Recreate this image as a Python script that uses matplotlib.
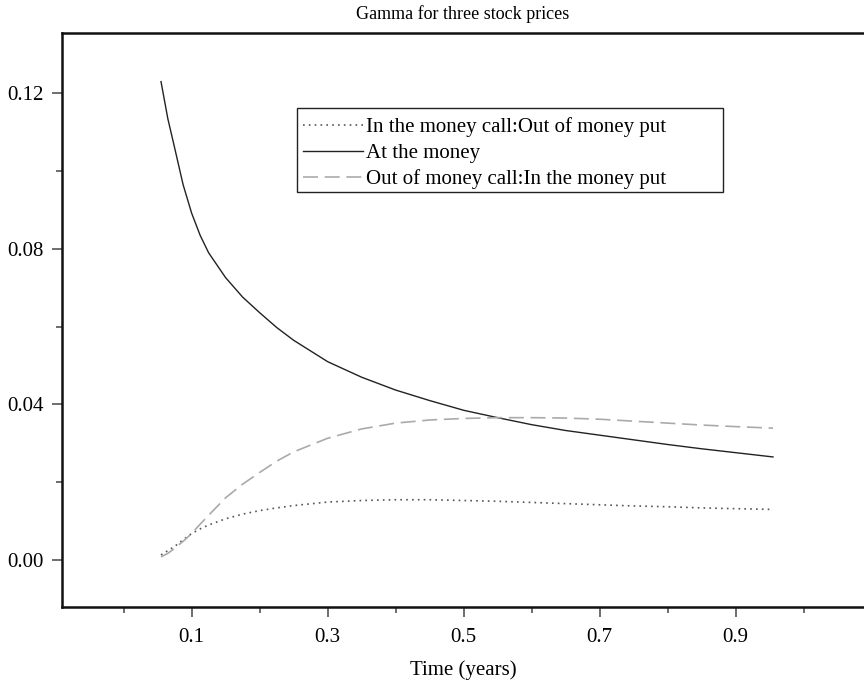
import matplotlib
matplotlib.use("Agg")
import matplotlib.pyplot as plt
from matplotlib.ticker import MultipleLocator, FormatStrFormatter, FixedLocator
from matplotlib.patches import Rectangle

plt.rcParams['font.family'] = ['Liberation Serif', 'DejaVu Serif']

time_years = [0.055, 0.065, 0.075, 0.0875, 0.1, 0.1125, 0.125, 0.15, 0.175, 0.2,
              0.225, 0.25, 0.3, 0.35, 0.4, 0.45, 0.5, 0.55, 0.6, 0.65, 0.7,
              0.75, 0.8, 0.85, 0.9, 0.955]
gamma_itm_call = [0.0013, 0.0024, 0.0035, 0.0052, 0.0068, 0.0080, 0.0090, 0.0106,
                  0.0118, 0.0127, 0.0134, 0.0140, 0.0149, 0.0153, 0.0155, 0.0155,
                  0.0153, 0.0151, 0.0148, 0.0145, 0.0142, 0.0139, 0.0137, 0.0134,
                  0.0132, 0.0130]
gamma_atm = [0.1230, 0.1135, 0.1060, 0.0965, 0.0892, 0.0835, 0.0790, 0.0726,
             0.0676, 0.0636, 0.0598, 0.0565, 0.0510, 0.0470, 0.0437, 0.0410,
             0.0385, 0.0366, 0.0348, 0.0333, 0.0321, 0.0309, 0.0297, 0.0286,
             0.0276, 0.0265]
gamma_otm_call = [0.0008, 0.0017, 0.0030, 0.0048, 0.0068, 0.0092, 0.0115, 0.0160,
                  0.0195, 0.0225, 0.0254, 0.0278, 0.0313, 0.0337, 0.0352, 0.0360,
                  0.0364, 0.0366, 0.0366, 0.0365, 0.0362, 0.0357, 0.0352, 0.0347,
                  0.0343, 0.0339]

labels = ["In the money call:Out of money put",
          "At the money",
          "Out of money call:In the money put"]

fig = plt.figure(figsize=(8.64, 6.9), dpi=100)
ax = fig.add_axes([62/864, 1 - 607/690, 1 - 62/864, (607 - 33)/690])

ax.plot(time_years, gamma_itm_call, color='#555555', lw=1.2, linestyle=(0, (1, 2.5)), label=labels[0])
ax.plot(time_years, gamma_atm, color='#222222', lw=1.0, label=labels[1])
ax.plot(time_years, gamma_otm_call, color='#aaaaaa', lw=1.2, linestyle=(0, (9, 4)), label=labels[2])

ax.set_xlim(-0.0906, 1.0888)
ax.set_ylim(-0.01208, 0.1355)

ax.xaxis.set_major_locator(FixedLocator([0.1, 0.3, 0.5, 0.7, 0.9]))
ax.xaxis.set_minor_locator(FixedLocator([0.0, 0.2, 0.4, 0.6, 0.8, 1.0]))
ax.xaxis.set_major_formatter(FormatStrFormatter('%.1f'))
ax.yaxis.set_major_locator(MultipleLocator(0.04))
ax.yaxis.set_minor_locator(FixedLocator([0.02, 0.06, 0.10]))
ax.yaxis.set_major_formatter(FormatStrFormatter('%.2f'))

ax.tick_params(axis='both', which='major', direction='out', length=7, width=1.2,
               labelsize=15, color='#555555')
ax.tick_params(axis='x', which='major', pad=8)
ax.tick_params(axis='y', which='major', pad=6)
ax.tick_params(axis='both', which='minor', direction='out', length=4, width=1.2, color='#555555')

for side in ['left', 'bottom', 'top']:
    ax.spines[side].set_linewidth(1.8)
    ax.spines[side].set_color('#111111')
ax.spines['right'].set_visible(False)

ax.set_title("Gamma for three stock prices", fontsize=13, pad=10)
ax.set_xlabel("Time (years)", fontsize=15, labelpad=10)

leg = ax.legend(loc='upper left', bbox_to_anchor=(0.3005, 0.853), fontsize=15,
                frameon=False, handlelength=2.9, handletextpad=0.1, borderpad=0,
                labelspacing=0.3, borderaxespad=0)

ax.add_patch(Rectangle((0.293, 0.723), 0.531, 0.1463, transform=ax.transAxes,
                       fill=False, edgecolor='#222222', lw=1.0, zorder=5))

fig.savefig("out.png", dpi=100)
